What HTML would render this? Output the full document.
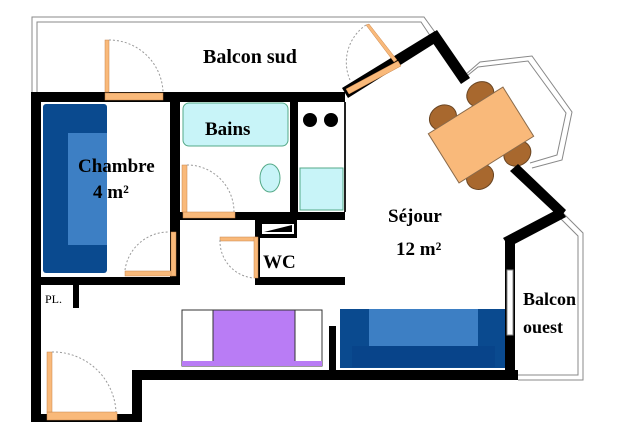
<!DOCTYPE html>
<html><head><meta charset="utf-8"><style>
html,body{margin:0;padding:0;background:#fff}
svg{display:block}
text{font-family:"Liberation Serif",serif;font-weight:bold;fill:#000}
</style></head><body>
<svg width="619" height="438" viewBox="0 0 619 438" xmlns="http://www.w3.org/2000/svg">
<g fill="none" stroke="#888" stroke-width="1">
<polyline points="32,92 32,17 424,17 437,35"/>
<polyline points="37,92 37,22 421,22 431,37"/>
<polyline points="465,75 480,62 532,56 572,112 562,160 532,168"/>
<polyline points="462,80 478,67 528,61 566,113 557,155 530,163"/>
<polyline points="563,213 583,233 583,380 518,380"/>
<polyline points="560,218 578,236 578,375 518,375"/>
</g>
<rect x="43" y="104" width="64" height="169" rx="3" fill="#0a4a8f"/>
<rect x="68" y="133" width="39" height="112" fill="#3d7fc4"/>
<rect x="183" y="103" width="105" height="43" rx="6" fill="#c8f4f8" stroke="#5a8" stroke-width="1"/>
<ellipse cx="270" cy="178" rx="10" ry="14" fill="#c8f4f8" stroke="#5a8"/>
<rect x="300" y="168" width="43" height="42" fill="#c8f4f8" stroke="#5a8"/>
<circle cx="310" cy="120" r="7" fill="#000"/><circle cx="331" cy="120" r="7" fill="#000"/>
<line x1="345" y1="102" x2="345" y2="212" stroke="#222" stroke-width="2"/>
<rect x="182" y="310" width="140" height="56" fill="#fff" stroke="#333" stroke-width="1"/>
<rect x="213" y="310" width="82" height="56" fill="#b97cf5" stroke="#333" stroke-width="1"/>
<rect x="182" y="361" width="140" height="5" fill="#b97cf5"/>
<rect x="340" y="309" width="165" height="59" fill="#0a4a8f"/>
<rect x="369" y="309" width="109" height="37" fill="#3d7fc4"/>
<rect x="352" y="346" width="143" height="21" fill="#08448a"/>
<g transform="rotate(-32 481 135)">
<ellipse cx="458" cy="100" rx="14" ry="12" fill="#a8682e" stroke="#6a4522"/>
<ellipse cx="502" cy="100" rx="14" ry="12" fill="#a8682e" stroke="#6a4522"/>
<ellipse cx="458" cy="170" rx="14" ry="12" fill="#a8682e" stroke="#6a4522"/>
<ellipse cx="502" cy="170" rx="14" ry="12" fill="#a8682e" stroke="#6a4522"/>
<rect x="437" y="106" width="88" height="58" fill="#f9b97a" stroke="#8a6a4a"/>
</g>
<g fill="#000">
<rect x="31" y="92" width="314" height="10"/>
<rect x="31" y="92" width="10" height="330"/>
<rect x="170" y="92" width="10" height="193"/>
<rect x="41" y="277" width="139" height="8"/>
<rect x="73" y="285" width="6" height="23"/>
<rect x="290" y="102" width="8" height="118"/>
<rect x="180" y="212" width="165" height="8"/>
<rect x="255" y="220" width="42" height="18"/>
<rect x="255" y="220" width="5" height="65"/>
<rect x="255" y="277" width="90" height="8"/>
<rect x="31" y="414" width="111" height="8"/>
<rect x="132" y="370" width="10" height="52"/>
<rect x="132" y="370" width="386" height="10"/>
<rect x="329" y="326" width="7" height="46"/>
<rect x="505" y="240" width="10" height="135"/>
<polygon points="342,88 435,31 440,40 348,98"/>
<polygon points="428,36 437,30 470,78 461,84"/>
<polygon points="510,171 518,164 566,210 560,218"/>
<polygon points="503,238 560,208 566,217 509,247"/>
</g>
<rect x="262" y="224" width="32" height="10" fill="#fff"/>
<polygon points="264,232 292,225 292,232" fill="#000"/>
<rect x="507" y="270" width="6" height="65" fill="#fff" stroke="#888"/>
<g fill="#f9b97a" stroke="#c8844a" stroke-width="0.5">
<rect x="105" y="93" width="58" height="7"/>
<rect x="105" y="40" width="4" height="52"/>
<rect x="125" y="271" width="47" height="5"/>
<rect x="171" y="232" width="5" height="44"/>
<rect x="183" y="212" width="52" height="6"/>
<rect x="182" y="165" width="5" height="47"/>
<rect x="220" y="237" width="36" height="4"/>
<rect x="254" y="237" width="4" height="41"/>
<rect x="47" y="412" width="70" height="8"/>
<rect x="47" y="352" width="5" height="60"/>
<polygon points="346,89 398,61 401,66 349,94"/>
<polygon points="366,25 369,24 397,60 394,62"/>
</g>
<g fill="none" stroke="#999" stroke-width="1" stroke-dasharray="2,2">
<path d="M109,40 A54,54 0 0 1 163,92"/>
<path d="M125,270 A44,44 0 0 1 169,232"/>
<path d="M187,165 A47,47 0 0 1 234,212"/>
<path d="M220,240 A37,37 0 0 0 253,278"/>
<path d="M52,352 A63,63 0 0 1 116,412"/>
<path d="M366,25 A45,45 0 0 0 350,80"/>
</g>
<text x="203" y="63" font-size="20">Balcon sud</text>
<text x="205" y="135" font-size="19">Bains</text>
<text x="78" y="172" font-size="19">Chambre</text>
<text x="93" y="198" font-size="19">4 m²</text>
<text x="388" y="222" font-size="19">Séjour</text>
<text x="396" y="255" font-size="19">12 m²</text>
<text x="263" y="268" font-size="19">WC</text>
<text x="523" y="305" font-size="18">Balcon</text>
<text x="523" y="333" font-size="18">ouest</text>
<text x="45" y="303" font-size="12" style="font-weight:normal">PL.</text>
</svg>
</body></html>
